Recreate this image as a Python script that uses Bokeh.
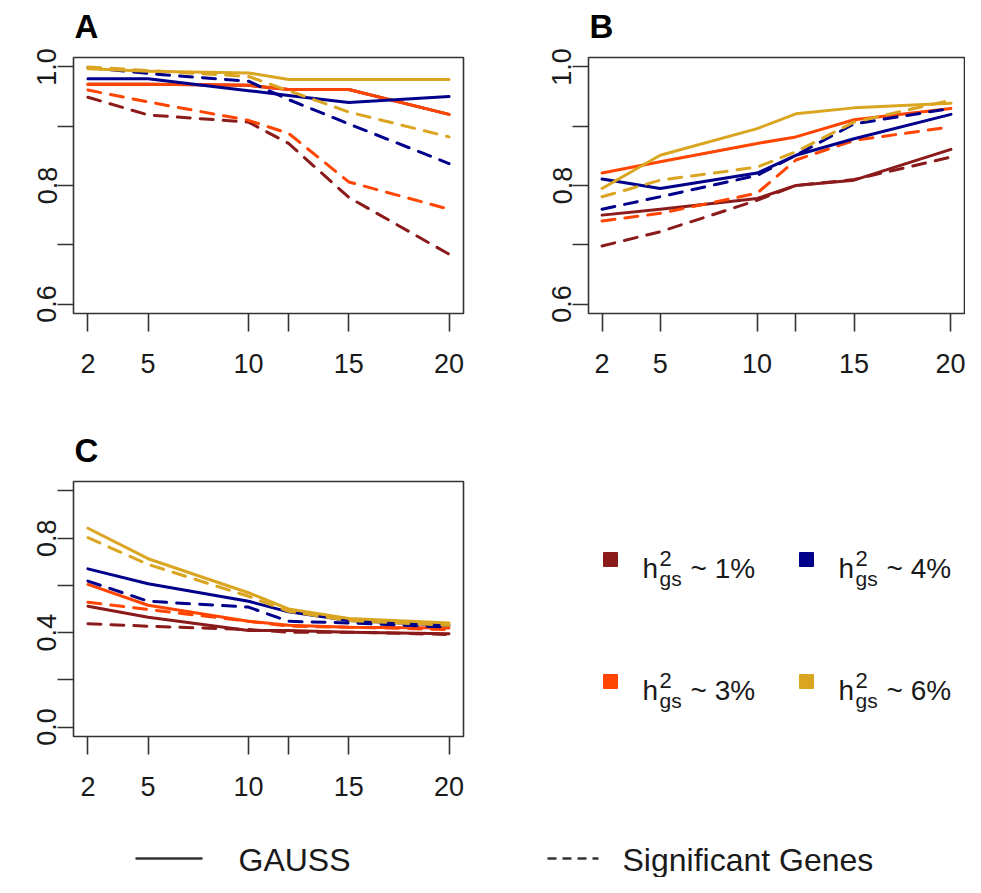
from bokeh.plotting import figure
from bokeh.layouts import column, row
from bokeh.models import FixedTicker, Range1d, PrintfTickFormatter, Title
from bokeh.core.properties import value
from bokeh.embed import file_html
from bokeh.resources import INLINE

# ---------------- data ----------------
X = [2, 5, 10, 12, 15, 20]
X_TICKS = [2, 5, 10, 12, 15, 20]
X_TICK_LABELS = ["2", "5", "10", "", "15", "20"]
Y_TICKS_AB = [0.6, 0.7, 0.8, 0.9, 1.0]
Y_TICK_LABELS_AB = ["0.6", "", "0.8", "", "1.0"]
Y_TICKS_C = [0.0, 0.2, 0.4, 0.6, 0.8, 1.0]
Y_TICK_LABELS_C = ["0.0", "", "0.4", "", "0.8", ""]

HERITABILITY = ["1%", "3%", "4%", "6%"]
COLORS = ["#8B1A1A", "#FF4500", "#00008B", "#DAA520"]
METHODS = ["GAUSS", "Significant Genes"]

# Panel A
A_GAUSS_1 = [0.971, 0.971, 0.969, 0.962, 0.962, 0.920]
A_GAUSS_3 = [0.971, 0.971, 0.969, 0.962, 0.962, 0.920]
A_GAUSS_4 = [0.980, 0.980, 0.960, 0.952, 0.940, 0.950]
A_GAUSS_6 = [0.997, 0.993, 0.990, 0.979, 0.979, 0.979]
A_SIG_1 = [0.949, 0.919, 0.907, 0.871, 0.780, 0.684]
A_SIG_3 = [0.961, 0.941, 0.910, 0.888, 0.806, 0.760]
A_SIG_4 = [0.999, 0.989, 0.976, 0.945, 0.904, 0.837]
A_SIG_6 = [1.000, 0.994, 0.984, 0.960, 0.924, 0.882]

# Panel B
B_GAUSS_1 = [0.750, 0.760, 0.778, 0.800, 0.809, 0.861]
B_GAUSS_3 = [0.821, 0.840, 0.871, 0.882, 0.911, 0.930]
B_GAUSS_4 = [0.811, 0.795, 0.821, 0.851, 0.879, 0.920]
B_GAUSS_6 = [0.795, 0.851, 0.896, 0.921, 0.931, 0.939]
B_SIG_1 = [0.698, 0.722, 0.775, 0.800, 0.810, 0.848]
B_SIG_3 = [0.740, 0.753, 0.787, 0.843, 0.876, 0.899]
B_SIG_4 = [0.760, 0.781, 0.817, 0.851, 0.904, 0.930]
B_SIG_6 = [0.781, 0.809, 0.831, 0.857, 0.907, 0.944]

# Panel C
C_GAUSS_1 = [0.512, 0.465, 0.409, 0.409, 0.402, 0.395]
C_GAUSS_3 = [0.604, 0.516, 0.448, 0.431, 0.423, 0.420]
C_GAUSS_4 = [0.670, 0.607, 0.533, 0.488, 0.451, 0.431]
C_GAUSS_6 = [0.842, 0.713, 0.569, 0.500, 0.460, 0.441]
C_SIG_1 = [0.438, 0.427, 0.413, 0.402, 0.402, 0.392]
C_SIG_3 = [0.529, 0.498, 0.448, 0.427, 0.423, 0.413]
C_SIG_4 = [0.618, 0.533, 0.508, 0.448, 0.441, 0.423]
C_SIG_6 = [0.802, 0.689, 0.554, 0.490, 0.451, 0.431]

FONT = "Liberation Sans"
AXIS_COLOR = "#333333"
TEXT_COLOR = "#1a1a1a"


def make_panel(letter, width, height, borders, xr, yr, yticks, ylabels, gauss, sig):
    left, right, top, bottom = borders
    p = figure(width=width, height=height,
               x_range=Range1d(*xr), y_range=Range1d(*yr),
               output_backend="svg", toolbar_location=None,
               min_border_left=left, min_border_right=right,
               min_border_top=top, min_border_bottom=bottom,
               background_fill_color="white", border_fill_color="white")
    p.grid.visible = False
    p.outline_line_color = AXIS_COLOR
    p.outline_line_width = 1.6
    p.outline_line_alpha = 1.0

    # thin spacer between frame and the panel letter
    p.add_layout(Title(text=" ", text_font_size="2px", standoff=6), "above")
    p.title.text = letter
    p.title.align = "left"
    p.title.offset = 1
    p.title.standoff = 6
    p.title.text_font = FONT
    p.title.text_font_style = "bold"
    p.title.text_font_size = "33px"
    p.title.text_color = "black"

    xa = p.xaxis[0]
    xa.ticker = FixedTicker(ticks=X_TICKS)
    xa.major_label_overrides = {t: l for t, l in zip(X_TICKS, X_TICK_LABELS)}
    ya = p.yaxis[0]
    ya.ticker = FixedTicker(ticks=yticks)
    ya.formatter = PrintfTickFormatter(format="%.1f")
    ya.major_label_overrides = {t: l for t, l in zip(yticks, ylabels)}
    ya.major_label_orientation = "vertical"
    for ax in (xa, ya):
        ax.axis_line_color = None
        ax.minor_tick_line_color = None
        ax.major_tick_line_color = AXIS_COLOR
        ax.major_tick_line_width = 1.6
        ax.major_tick_in = 0
        ax.major_label_text_font = FONT
        ax.major_label_text_font_size = "27px"
        ax.major_label_text_color = TEXT_COLOR
    xa.major_tick_out = 18
    xa.major_label_standoff = 22
    ya.major_tick_out = 16
    ya.major_label_standoff = 1

    for color, g, s in zip(COLORS, gauss, sig):
        p.line(X, g, line_color=color, line_width=3, line_cap="round", line_join="round")
        p.line(X, s, line_color=color, line_width=3, line_dash="13 10",
               line_cap="round", line_join="round")
    return p


pA = make_panel("A", 527, 420, (73, 64, 57, 107), (1.28, 20.72), (0.584, 1.016),
                Y_TICKS_AB, Y_TICK_LABELS_AB,
                [A_GAUSS_1, A_GAUSS_3, A_GAUSS_4, A_GAUSS_6],
                [A_SIG_1, A_SIG_3, A_SIG_4, A_SIG_6])
pB = make_panel("B", 438, 420, (61, 1, 57, 107), (1.30, 20.70), (0.584, 1.016),
                Y_TICKS_AB, Y_TICK_LABELS_AB,
                [B_GAUSS_1, B_GAUSS_3, B_GAUSS_4, B_GAUSS_6],
                [B_SIG_1, B_SIG_3, B_SIG_4, B_SIG_6])
ROW2_H = 388
pC = make_panel("C", 527, ROW2_H, (73, 64, 61, 72), (1.28, 20.72), (-0.04, 1.04),
                Y_TICKS_C, Y_TICK_LABELS_C,
                [C_GAUSS_1, C_GAUSS_3, C_GAUSS_4, C_GAUSS_6],
                [C_SIG_1, C_SIG_3, C_SIG_4, C_SIG_6])

# ---------------- colour legend (h^2_gs) ----------------
# frame matches panel C's frame (rows align frames); coordinates are local pixels
LW = 438
leg = figure(width=LW, height=ROW2_H, x_range=Range1d(0, LW),
             y_range=Range1d(ROW2_H - 72, 61),
             x_axis_type=None, y_axis_type=None, output_backend="svg",
             toolbar_location=None, min_border_left=0, min_border_right=0,
             min_border_top=61, min_border_bottom=72,
             background_fill_color="white", border_fill_color="white")
leg.grid.visible = False
leg.outline_line_color = None

COL_X = [83, 279]
ROW_Y = [139, 261]
sq_x, sq_y, cols = [], [], []
h_x, h_y, s_x, s_y, r_x, r_y, r_t = [], [], [], [], [], [], []
for i, (lab, col) in enumerate(zip(HERITABILITY, COLORS)):
    cx = COL_X[i // 2]
    cy = ROW_Y[i % 2]
    sq_x.append(cx)
    sq_y.append(cy)
    cols.append(col)
    h_x.append(cx + 32)
    h_y.append(cy + 9)
    s_x.append(cx + 49)
    s_y.append(cy)
    r_x.append(cx + 80)
    r_y.append(cy + 9)
    r_t.append("~ " + lab)

leg.scatter(sq_x, sq_y, marker="square", size=14, fill_color=cols, line_color=cols)
leg.text(h_x, h_y, text=["h"] * 4, text_font=value(FONT), text_font_size="28px",
         text_color=TEXT_COLOR, text_baseline="alphabetic", text_align="left")
leg.text(s_x, [y - 1 for y in s_y], text=["2"] * 4, text_font=value(FONT),
         text_font_size="22px", text_color=TEXT_COLOR, text_baseline="alphabetic",
         text_align="left")
leg.text(s_x, [y + 19 for y in s_y], text=["gs"] * 4, text_font=value(FONT),
         text_font_size="21px", text_color=TEXT_COLOR, text_baseline="alphabetic",
         text_align="left")
leg.text(r_x, r_y, text=r_t, text_font=value(FONT), text_font_size="28px",
         text_color=TEXT_COLOR, text_baseline="alphabetic", text_align="left")

# ---------------- line-type legend ----------------
BW, BH = 965, 877 - 420 - ROW2_H
bot = figure(width=BW, height=BH, x_range=Range1d(0, BW), y_range=Range1d(BH, 0),
             x_axis_type=None, y_axis_type=None, output_backend="svg",
             toolbar_location=None, min_border=0,
             background_fill_color="white", border_fill_color="white")
bot.grid.visible = False
bot.outline_line_color = None
bot.line([135, 202], [BH - 19, BH - 19], line_color="#333333", line_width=2.5)
bot.line([547, 598], [BH - 19, BH - 19], line_color="#333333", line_width=2.5,
         line_dash="9 6")
bot.text([238, 622], [BH - 18, BH - 18], text=METHODS, text_font=value(FONT),
         text_font_size="32px", text_color=TEXT_COLOR, text_baseline="middle",
         text_align="left")

layout = column(row(pA, pB), row(pC, leg), bot)

with open("out.html", "w") as f:
    f.write(file_html(layout, INLINE))
